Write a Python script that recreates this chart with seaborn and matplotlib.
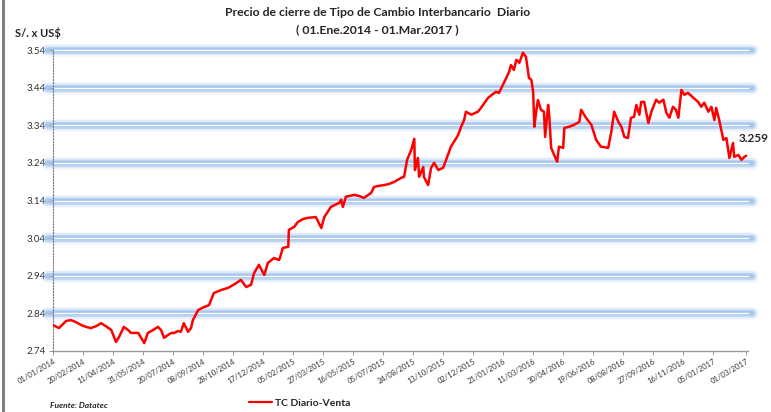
import pandas as pd
import numpy as np
import seaborn as sns
import matplotlib.pyplot as plt
from matplotlib.lines import Line2D

# dias desde el 01/01/2014 y tipo de cambio (S/. x US$)
dias = [0, 10, 22, 30, 38, 47, 55, 63, 72, 80, 88, 97, 105, 110, 118, 125, 130, 142, 152, 158,
        167, 175, 180, 185, 192, 197, 202, 208, 213, 218, 225, 230, 233, 242, 252, 260, 268, 280,
        292, 303, 313, 322, 330, 335, 343, 352, 358, 368, 377, 383, 392, 393, 402, 408, 417, 425,
        438, 447, 452, 463, 477, 480, 483, 488, 502, 510, 518, 530, 535, 543, 552, 560, 568, 580,
        585, 590, 597, 602, 603, 608, 610, 617, 618, 625, 630, 635, 642, 650, 655, 663, 675, 680,
        685, 688, 697, 708, 713, 725, 738, 743, 752, 760, 763, 768, 772, 777, 783, 788, 793, 797,
        800, 802, 805, 808, 813, 818, 820, 825, 827, 830, 835, 840, 843, 850, 852, 860, 868, 877,
        880, 888, 897, 905, 913, 925, 930, 935, 942, 947, 952, 958, 963, 968, 972, 977, 980, 985,
        992, 997, 1005, 1010, 1017, 1022, 1027, 1033, 1038, 1042, 1047, 1052, 1058, 1067, 1075,
        1080, 1085, 1092, 1097, 1102, 1105, 1110, 1117, 1122, 1127, 1133, 1135, 1142, 1147, 1152,
        1155]
tipo_cambio = [2.809, 2.801, 2.820, 2.822, 2.817, 2.809, 2.804, 2.801, 2.806, 2.814, 2.806, 2.796,
               2.764, 2.777, 2.804, 2.796, 2.788, 2.788, 2.761, 2.788, 2.796, 2.804, 2.796, 2.775,
               2.783, 2.788, 2.788, 2.793, 2.791, 2.814, 2.791, 2.801, 2.822, 2.849, 2.857, 2.862,
               2.894, 2.902, 2.908, 2.918, 2.929, 2.910, 2.916, 2.947, 2.969, 2.942, 2.974, 2.987,
               2.982, 3.014, 3.017, 3.062, 3.070, 3.083, 3.091, 3.094, 3.096, 3.067, 3.096, 3.123,
               3.134, 3.142, 3.123, 3.150, 3.155, 3.152, 3.147, 3.160, 3.176, 3.179, 3.181, 3.184,
               3.189, 3.200, 3.203, 3.248, 3.275, 3.304, 3.221, 3.253, 3.203, 3.229, 3.203, 3.181,
               3.227, 3.240, 3.221, 3.227, 3.248, 3.283, 3.314, 3.336, 3.354, 3.376, 3.368, 3.376,
               3.386, 3.413, 3.429, 3.426, 3.455, 3.482, 3.500, 3.487, 3.514, 3.506, 3.533, 3.522,
               3.466, 3.461, 3.429, 3.336, 3.376, 3.407, 3.381, 3.376, 3.309, 3.394, 3.362, 3.280,
               3.261, 3.243, 3.283, 3.280, 3.333, 3.336, 3.341, 3.349, 3.381, 3.360, 3.341, 3.301,
               3.283, 3.280, 3.320, 3.376, 3.349, 3.336, 3.309, 3.306, 3.360, 3.362, 3.394, 3.368,
               3.402, 3.402, 3.346, 3.376, 3.408, 3.400, 3.408, 3.373, 3.360, 3.389, 3.381, 3.360,
               3.434, 3.421, 3.426, 3.413, 3.402, 3.389, 3.400, 3.376, 3.389, 3.354, 3.386, 3.354,
               3.301, 3.306, 3.253, 3.293, 3.256, 3.261, 3.248, 3.256, 3.259]

y_ticks = [2.74, 2.84, 2.94, 3.04, 3.14, 3.24, 3.34, 3.44, 3.54]
x_tick_labels = ["01/01/2014", "20/02/2014", "11/04/2014", "31/05/2014", "20/07/2014", "08/09/2014",
                 "28/10/2014", "17/12/2014", "05/02/2015", "27/03/2015", "16/05/2015", "05/07/2015",
                 "24/08/2015", "13/10/2015", "02/12/2015", "21/01/2016", "11/03/2016", "30/04/2016",
                 "19/06/2016", "08/08/2016", "27/09/2016", "16/11/2016", "05/01/2017", "01/03/2017"]
ultimo_valor = "3.259"

inicio = pd.Timestamp("2014-01-01")
df = pd.DataFrame({
    "fecha": inicio + pd.to_timedelta(dias, unit="D"),
    "tc": tipo_cambio,
})

sns.set_theme(style="white")
plt.rcParams["font.family"] = ["Lato", "DejaVu Sans"]

fig = plt.figure(figsize=(7.71, 4.12), dpi=100)
ax = fig.add_axes([53 / 771, 61 / 412, 695 / 771, 301 / 412])

# lineas de grilla con brillo azul
for yv in y_ticks[1:]:
    for lw, alpha in [(9, 0.12), (7, 0.2), (5, 0.35), (3.2, 0.5)]:
        ax.axhline(yv, xmin=-0.008, xmax=1.006, color="#8fb8ea", lw=lw, alpha=alpha,
                   solid_capstyle="round", clip_on=False, zorder=1)
    ax.axhline(yv, xmin=0, xmax=1.0, color="white", lw=0.9, clip_on=False, zorder=2)

sns.lineplot(data=df, x="fecha", y="tc", ax=ax, color="#ff0000", lw=1.8, zorder=5,
             label="TC Diario-Venta", legend=False)

ax.set_ylim(2.74, 3.54)
ax.set_xlim(inicio, inicio + pd.Timedelta(days=1158))
ax.set_yticks(y_ticks)
ax.set_yticklabels([f"{v:.2f}" for v in y_ticks], fontsize=7, color="#333333")

x_pos = [inicio + pd.Timedelta(days=50 * i) for i in range(len(x_tick_labels) - 1)]
x_pos.append(pd.Timestamp("2017-03-01"))
ax.set_xticks(x_pos)
ax.set_xticklabels(x_tick_labels, rotation=30, ha="right", rotation_mode="anchor",
                   fontsize=5.5, color="#333333")
ax.set(xlabel=None, ylabel=None)

ax.tick_params(axis="both", which="both", length=3, width=0.6, color="#888888",
               direction="out", pad=2, bottom=True, left=True)
for side in ["top", "right"]:
    ax.spines[side].set_visible(False)
ax.spines["left"].set_linestyle(":")
ax.spines["left"].set_color("#777777")
ax.spines["left"].set_linewidth(0.8)
ax.spines["bottom"].set_color("#999999")
ax.spines["bottom"].set_linewidth(1.0)

fig.text(0.49, 1 - 13 / 412, "Precio de cierre de Tipo de Cambio Interbancario  Diario",
         ha="center", va="center", fontsize=8.8, fontweight="bold")
fig.text(0.49, 1 - 30 / 412, "( 01.Ene.2014 - 01.Mar.2017 )",
         ha="center", va="center", fontsize=8.8, fontweight="bold")
fig.text(15 / 771, 1 - 33 / 412, "S/. x US$", ha="left", va="center", fontsize=8, fontweight="bold")
fig.text(739 / 771, 1 - 139 / 412, ultimo_valor, ha="left", va="center", fontsize=8.5,
         fontweight="bold")
fig.text(50 / 771, 1 - 405 / 412, "Fuente: Datatec", ha="left", va="center", fontsize=6,
         fontweight="bold", style="italic")

handle = Line2D([], [], color="#ff0000", lw=1.6)
fig.legend([handle], ["TC Diario-Venta"], loc="center", bbox_to_anchor=(300 / 771, 1 - 403 / 412),
           frameon=False, prop={"size": 7.5, "weight": "bold"}, handlelength=2.2, handletextpad=0.3)

fig.add_artist(Line2D([3 / 771, 3 / 771], [0, 1], color="#808080", lw=2.2))

plt.savefig("out.png", dpi=100)
